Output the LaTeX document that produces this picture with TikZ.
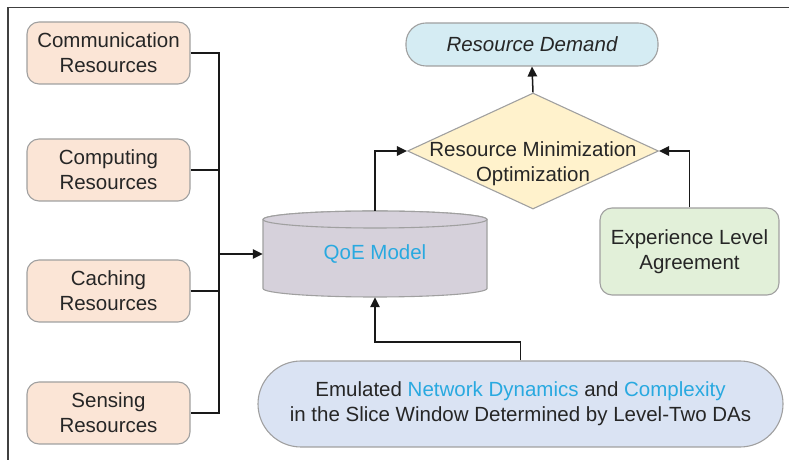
\documentclass[tikz,border=0pt]{standalone}
\usepackage{fontspec}
\setmainfont{Liberation Sans}
\usetikzlibrary{shapes.geometric, arrows.meta}
\definecolor{peach}{HTML}{FBE5D6}
\definecolor{edge}{HTML}{A0A0A0}
\definecolor{demand}{HTML}{D5ECF3}
\definecolor{optim}{HTML}{FFF2CC}
\definecolor{ela}{HTML}{E2F0D9}
\definecolor{qoe}{HTML}{D6D1DB}
\definecolor{emul}{HTML}{DAE3F3}
\definecolor{hilite}{HTML}{29A9E0}
\definecolor{frame}{HTML}{404040}
\tikzstyle{Txt} = [font=\fontsize{20.5pt}{25pt}\selectfont, text=black!85, align=center]
\tikzstyle{Res} = [Txt, draw=edge, line width=1.1pt, fill=peach, rounded corners=12pt,
minimum width=163pt, minimum height=62pt, inner sep=2pt]
\tikzstyle{Demand} = [Txt, draw=edge, line width=1.1pt, fill=demand, rounded corners=20pt,
minimum width=252pt, minimum height=43pt, inner sep=2pt]
\tikzstyle{Dia} = [diamond, draw=edge, line width=1.1pt, fill=optim, inner sep=0pt,
minimum width=251pt, minimum height=116pt]
\tikzstyle{Ela} = [Txt, draw=edge, line width=1.1pt, fill=ela, rounded corners=12pt,
minimum width=179pt, minimum height=87pt, inner sep=2pt]
\tikzstyle{Pill} = [Txt, draw=edge, line width=1.1pt, fill=emul, rounded corners=43pt,
minimum width=525pt, minimum height=86pt, inner sep=2pt]
\tikzstyle{Cyl} = [draw=edge, line width=1.1pt, fill=qoe]
\tikzstyle{Line} = [line width=1.5pt, black!90]
\tikzstyle{Arrow} = [Line, -{Triangle[length=10pt, width=9.5pt]}]

\begin{document}
\begin{tikzpicture}[x=1pt, y=1pt]
    \useasboundingbox (0,0) rectangle (789,460);
    \draw[line width=1.4pt, frame] (8,0) -- (8,452.5) -- (789,452.5);

    \node[Res] (1) at (108.5,407) {Communication\\Resources};
    \node[Res] (2) at (108.5,290) {Computing\\Resources};
    \node[Res] (3) at (108.5,169) {Caching\\Resources};
    \node[Res] (4) at (108.5,47) {Sensing\\Resources};

    \draw[Cyl] (263,240.5) -- (263,171.5)
        arc[start angle=180, end angle=360, x radius=112, y radius=8.5]
        -- (487,240.5)
        arc[start angle=0, end angle=180, x radius=112, y radius=8.5] -- cycle;
    \draw[Cyl] (375,240.5) ellipse[x radius=112, y radius=8.5];
    \node[Txt, text=hilite, minimum width=224pt, minimum height=86pt, inner sep=0pt] (5)
        at (375,206) {QoE Model};

    \node[Dia, label={[Txt, yshift=-13pt]center:Resource Minimization\\Optimization}] (6)
        at (533,309) {};
    \node[Demand, font=\fontsize{20.5pt}{25pt}\selectfont\itshape] (7)
        at (532,415.5) {Resource Demand};
    \node[Ela] (8) at (689.5,208.5) {Experience Level\\Agreement};
    \node[Pill] (9) at (520.5,56) {Emulated \textcolor{hilite}{Network Dynamics} and
        \textcolor{hilite}{Complexity}\\in the Slice Window Determined by Level-Two DAs};

    \coordinate (bus) at (219,206);
    \draw[Line] (1.east) -- (1.east -| bus) -- (4.east -| bus) -- (4.east);
    \draw[Line] (2.east) -- (2.east -| bus);
    \draw[Line] (3.east) -- (3.east -| bus);
    \draw[Arrow] (bus) -- (5.west);
    \draw[Arrow] (9.north) |- (375,118) -- (5.south);
    \draw[Arrow] (5.north) |- (6.west);
    \draw[Arrow] (8.north) |- (6.east);
    \draw[Arrow] (6.north) -- (7.south);
\end{tikzpicture}
\end{document}
